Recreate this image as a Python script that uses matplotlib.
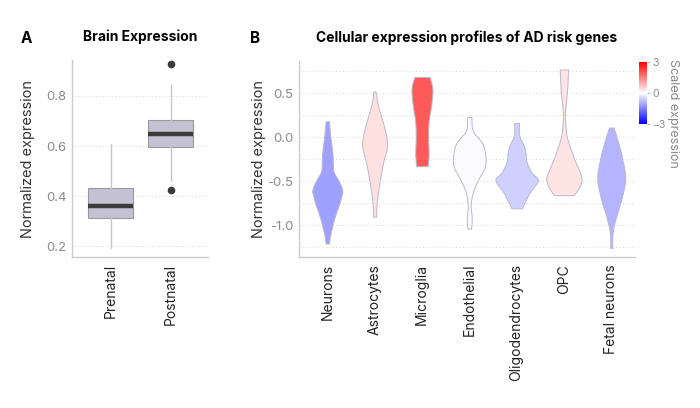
import matplotlib
matplotlib.use("Agg")
import matplotlib.pyplot as plt
import numpy as np
from matplotlib.colors import Normalize

plt.rcParams['font.family'] = ['Inter', 'DejaVu Sans']

# ---------------- Data ----------------
# Panel A: boxplot summary statistics
box_groups = ["Prenatal", "Postnatal"]
box_q1 = [0.312, 0.596]
box_med = [0.362, 0.648]
box_q3 = [0.432, 0.704]
box_whislo = [0.192, 0.460]
box_whishi = [0.608, 0.844]
box_fliers = [[], [0.928, 0.424]]

# Panel B: violin profiles (y values and relative density)
cell_types = ["Neurons", "Astrocytes", "Microglia", "Endothelial",
              "Oligodendrocytes", "OPC", "Fetal neurons"]
scaled_expr = [-1.12, 0.37, 1.94, -0.06, -0.55, 0.32, -0.88]

neurons_y = [0.18, 0.10, -0.015, -0.12, -0.205, -0.30, -0.39, -0.50, -0.60, -0.68, -0.77, -0.86, -0.96, -1.11, -1.21]
neurons_d = [1.7, 2.3, 3.3, 4.5, 5.3, 5.6, 6.3, 11.5, 15.0, 13.8, 11.7, 8.8, 6.2, 3.0, 1.7]
astro_y = [0.52, 0.45, 0.36, 0.17, 0.02, -0.09, -0.18, -0.28, -0.51, -0.73, -0.905]
astro_d = [1.0, 2.0, 3.3, 8.3, 11.5, 12.5, 11.2, 8.7, 5.0, 2.3, 1.5]
micro_y = [0.685, 0.60, 0.515, 0.36, 0.17, -0.015, -0.20, -0.33]
micro_d = [7.5, 9.8, 10.5, 9.2, 6.7, 6.3, 6.7, 5.8]
endo_y = [0.23, 0.12, 0.05, 0.005, -0.08, -0.205, -0.32, -0.40, -0.47, -0.62, -0.77, -0.92, -1.04]
endo_d = [2.2, 2.5, 4.5, 8.0, 13.5, 16.2, 16.0, 13.0, 9.5, 3.8, 1.5, 2.5, 1.8]
oligo_y = [0.16, 0.02, -0.09, -0.18, -0.28, -0.40, -0.49, -0.62, -0.72, -0.81]
oligo_d = [2.5, 2.7, 7.0, 9.0, 10.0, 15.0, 21.3, 13.7, 9.0, 5.3]
opc_y = [0.77, 0.55, 0.40, 0.25, 0.10, -0.015, -0.24, -0.36, -0.47, -0.58, -0.66]
opc_d = [4.2, 3.3, 2.0, 1.0, 1.8, 3.3, 10.0, 14.5, 17.7, 14.8, 9.7]
fetal_y = [0.11, -0.05, -0.24, -0.47, -0.70, -0.89, -1.08, -1.26]
fetal_d = [2.3, 6.7, 11.0, 14.0, 10.3, 5.3, 1.5, 1.0]

profiles_y = [neurons_y, astro_y, micro_y, endo_y, oligo_y, opc_y, fetal_y]
profiles_d = [neurons_d, astro_d, micro_d, endo_d, oligo_d, opc_d, fetal_d]


def smooth_outline(y, d, n=16):
    """Catmull-Rom curve through the outline knots (rendering only)."""
    P = np.column_stack([y, d]).astype(float)
    P = np.vstack([P[0], P, P[-1]])
    out = []
    for i in range(1, len(P) - 2):
        p0, p1, p2, p3 = P[i - 1], P[i], P[i + 1], P[i + 2]
        t = np.linspace(0, 1, n, endpoint=False)[:, None]
        c = 0.5 * ((2 * p1) + (-p0 + p2) * t + (2 * p0 - 5 * p1 + 4 * p2 - p3) * t ** 2
                   + (-p0 + 3 * p1 - 3 * p2 + p3) * t ** 3)
        out.append(c)
    out.append(P[-2][None, :])
    C = np.vstack(out)
    return C[:, 0], np.clip(C[:, 1], 0.3, None)


# ---------------- Figure ----------------
fig = plt.figure(figsize=(7.0, 4.08), dpi=100)

grid_kw = dict(color="#dddddd", linestyle=(0, (1, 2)), linewidth=0.8)
tick_color = "#8a8a8a"
spine_color = "#cccccc"

# Panel A
axA = fig.add_axes([0.1029, 0.370, 0.194, 0.483])
stats = []
for i, g in enumerate(box_groups):
    stats.append(dict(label=g, q1=box_q1[i], med=box_med[i], q3=box_q3[i],
                      whislo=box_whislo[i], whishi=box_whishi[i],
                      fliers=box_fliers[i]))
axA.bxp(stats, positions=[0, 1], widths=0.75, patch_artist=True, showcaps=False,
        boxprops=dict(facecolor="#c4c2d3", edgecolor="#9a9a9a", linewidth=0.8),
        medianprops=dict(color="#3b3b3b", linewidth=3.2, solid_capstyle="butt"),
        whiskerprops=dict(color="#c8c8c8", linewidth=1.0),
        flierprops=dict(marker="o", markerfacecolor="#3b3b3b",
                        markeredgecolor="#3b3b3b", markersize=4.5))
axA.set_xlim(-0.65, 1.62)
axA.set_ylim(0.156, 0.944)
axA.set_yticks([0.2, 0.4, 0.6, 0.8])
axA.set_yticklabels(["0.2", "0.4", "0.6", "0.8"])
axA.yaxis.grid(True, **grid_kw)
axA.set_axisbelow(True)
axA.set_xticks([0, 1])
axA.set_xticklabels(box_groups, rotation=90, fontsize=10, color="#222222")
axA.set_ylabel("Normalized expression", fontsize=10.5, color="#333333", labelpad=8)
axA.set_title("Brain Expression", fontsize=10, fontweight="bold", pad=14)

# Panel B
axB = fig.add_axes([0.427, 0.370, 0.480, 0.480])
cmap = plt.get_cmap("bwr")
norm = Normalize(vmin=-3, vmax=3)
px_per_unit = 47.5
for i, (yy, dd) in enumerate(zip(profiles_y, profiles_d)):
    ys, ds = smooth_outline(yy, dd)
    hw = ds / px_per_unit
    axB.fill_betweenx(ys, i - hw, i + hw, facecolor=cmap(norm(scaled_expr[i])),
                      edgecolor="#b9b9cc", linewidth=0.7, zorder=3)
axB.set_xlim(-0.6, 6.5)
axB.set_ylim(-1.364, 0.864)
axB.set_yticks([-1.0, -0.5, 0.0, 0.5])
axB.set_yticklabels(["-1.0", "-0.5", "0.0", "0.5"])
axB.set_yticks([-1.25, -0.75, -0.25, 0.25, 0.75], minor=True)
axB.yaxis.grid(True, which="both", **grid_kw)
axB.set_axisbelow(True)
axB.set_xticks(range(len(cell_types)))
axB.set_xticklabels(cell_types, rotation=90, fontsize=10, color="#222222")
axB.set_ylabel("Normalized expression", fontsize=10.5, color="#333333", labelpad=1)
axB.set_title("Cellular expression profiles of AD risk genes", fontsize=10,
              fontweight="bold", pad=14)

for ax in (axA, axB):
    for s in ("top", "right"):
        ax.spines[s].set_visible(False)
    for s in ("left", "bottom"):
        ax.spines[s].set_color(spine_color)
        ax.spines[s].set_linewidth(1.0)
    ax.tick_params(axis="y", which="major", length=0, labelcolor=tick_color,
                   labelsize=9.5, pad=4)
    ax.tick_params(axis="y", which="minor", length=0, width=0)
    ax.tick_params(axis="x", length=0, pad=5)

# Colorbar
cax = fig.add_axes([0.913, 0.696, 0.0114, 0.152])
sm = plt.cm.ScalarMappable(cmap=cmap, norm=norm)
cb = fig.colorbar(sm, cax=cax, ticks=[-3, 0, 3])
cb.outline.set_visible(False)
cb.ax.tick_params(length=2, width=0.6, color="#aaaaaa", labelsize=7.5,
                  labelcolor=tick_color, pad=2)
fig.text(673 / 700, 1 - 59 / 408, "Scaled expression", rotation=270,
         fontsize=9, color="#888888", ha="center", va="top")

# Panel letters
fig.text(0.029, 0.905, "A", fontsize=11, fontweight="bold", ha="left", va="center")
fig.text(0.357, 0.905, "B", fontsize=11, fontweight="bold", ha="left", va="center")

fig.savefig("out.png", dpi=100)
